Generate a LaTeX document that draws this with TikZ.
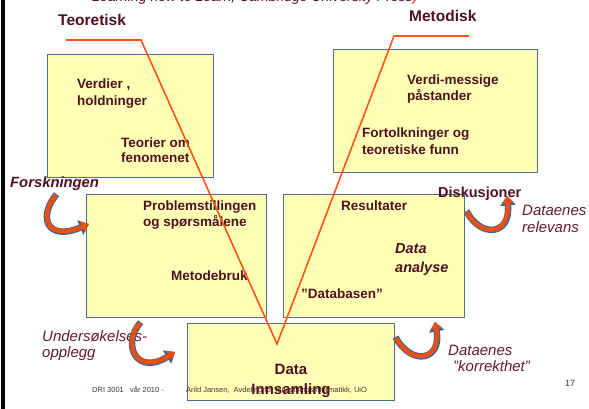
\documentclass[tikz,border=0pt]{standalone}
\usepackage{fontspec}
\setmainfont{Liberation Sans}
\usetikzlibrary{arrows.meta}
\definecolor{txt}{RGB}{80,16,32}
\definecolor{lbltxt}{RGB}{100,25,45}
\definecolor{foot}{RGB}{75,45,55}
\definecolor{boxfill}{RGB}{255,255,181}
\definecolor{boxline}{RGB}{79,107,145}
\definecolor{vline}{RGB}{255,85,20}
\definecolor{arrowor}{RGB}{230,80,20}
\definecolor{arrowbl}{RGB}{62,100,150}
\newcommand{\blockarr}[1]{%
  \draw[arrowbl, line width=6.5pt, shorten <=-1pt, -{Triangle[width=15pt,length=9.5pt]}] #1;
  \draw[arrowor, line width=4.5pt, -{Triangle[width=11.5pt,length=7pt]}] #1;
}
\begin{document}
\begin{tikzpicture}[x=1pt,y=-1pt,
  boxst/.style={draw=boxline, fill=boxfill, line width=1pt, anchor=north west, inner sep=0pt},
  hdr/.style={font=\fontsize{15.5}{18}\selectfont\bfseries, text=txt, inner sep=0pt, anchor=base west},
  body/.style={font=\fontsize{13.5}{16}\selectfont\bfseries, text=txt, inner sep=0pt, anchor=base west},
  bodyit/.style={font=\fontsize{14.5}{16}\selectfont\bfseries\itshape, text=txt, inner sep=0pt, anchor=base west},
  lbl/.style={font=\fontsize{15}{18}\selectfont\itshape, text=lbltxt, inner sep=0pt, anchor=base west},
  footst/.style={font=\fontsize{7.5}{9}\selectfont, text=foot, inner sep=0pt, anchor=base west}]
\useasboundingbox (0,0) rectangle (589,409);
\clip (0,0) rectangle (589,409);
\fill[black] (1,0) rectangle (4.5,409);
% cut-off header line
\node[font=\fontsize{14}{16}\selectfont\itshape, text=txt, inner sep=0pt, anchor=base west] (src) at (92,2) {Learning how to Learn, Cambridge University Press\textcolor{red}{)}};
% boxes
\node[boxst, minimum width=166pt, minimum height=123pt] (boxA) at (47,54) {};
\node[boxst, minimum width=204pt, minimum height=123pt] (boxB) at (333,49) {};
\node[boxst, minimum width=180pt, minimum height=123pt] (boxC) at (86,194) {};
\node[boxst, minimum width=181pt, minimum height=123pt] (boxD) at (283,194) {};
% footer (under box E text level)
\node[footst] (foot1) at (92,392) {DRI 3001\ \ \ vår 2010 -};
\node[boxst, minimum width=207pt, minimum height=77pt] (boxE) at (187,323) {};
\node[footst] (foot2) at (186,392) {Arild Jansen,\ \ Avdeling for forvaltningsinformatikk, UiO};
\node[font=\fontsize{9}{11}\selectfont, text=black!80, inner sep=0pt, anchor=base west] (pg) at (565,386) {17};
% headers
\node[hdr] (teo) at (58,26) {Teoretisk};
\node[hdr] (met) at (409,21.5) {Metodisk};
% box A
\node[body] (a1) at (77,89) {Verdier ,};
\node[body] (a2) at (77,106) {holdninger};
\node[body] (a3) at (121,147) {Teorier om};
\node[body] (a4) at (121,163) {fenomenet};
% box B
\node[body] (b1) at (407,85) {Verdi-messige};
\node[body] (b2) at (407,101) {påstander};
\node[body] (b3) at (362,138) {Fortolkninger og};
\node[body] (b4) at (362,154) {teoretiske funn};
% box C
\node[body] (c1) at (143,210) {Problemstillingen};
\node[body] (c2) at (143,226) {og spørsmålene};
\node[body] (c3) at (171,280) {Metodebruk};
% box D
\node[body] (d1) at (341,210) {Resultater};
\node[bodyit] (d2) at (395,253) {Data};
\node[bodyit] (d3) at (395,272) {analyse};
\node[body] (d4) at (301,298) {”Databasen”};
% box E
\node[font=\fontsize{15}{18}\selectfont\bfseries, text=txt, inner sep=0pt, anchor=base] (e1) at (291,374) {Data};
\node[font=\fontsize{15}{18}\selectfont\bfseries, text=txt, inner sep=0pt, anchor=base] (e2) at (291,394) {Innsamling};
% side labels
\node[bodyit, font=\fontsize{14.8}{16}\selectfont\bfseries\itshape] (fors) at (10,187) {Forskningen};
\node[hdr, font=\fontsize{14.5}{16}\selectfont\bfseries] (disk) at (438,197) {Diskusjoner};
\node[lbl] (rel1) at (522,215) {Dataenes};
\node[lbl] (rel2) at (522,232) {relevans};
\node[lbl] (und1) at (42,341.5) {Undersøkelses-};
\node[lbl] (und2) at (42,357.5) {opplegg};
\node[lbl] (kor1) at (448,355) {Dataenes};
\node[lbl] (kor2) at (453,371) {"korrekthet"};
% curved block arrows
\coordinate (fs) at (56,195);  \coordinate (fe) at (89,224);
\coordinate (us) at (140,323); \coordinate (ue) at (175,352);
\coordinate (ks) at (396,338); \coordinate (ke) at (435,322);
\coordinate (rs) at (467,212); \coordinate (re) at (507,196);
\blockarr{(fs) .. controls (38,216) and (46,242) .. (fe)}
\blockarr{(us) .. controls (121,345) and (137,376) .. (ue)}
\blockarr{(ks) .. controls (412,367) and (442,360) .. (ke)}
\blockarr{(rs) .. controls (480,238) and (511,236) .. (re)}
% orange V line
\coordinate (l0) at (66,40);
\coordinate (l1) at (141,40);
\coordinate (vb) at (277,344);
\coordinate (r1) at (394,36);
\coordinate (r0) at (469,36);
\draw[vline, line width=1.6pt, line join=miter] (l0) -- (l1) -- (vb) -- (r1) -- (r0);
\end{tikzpicture}
\end{document}
